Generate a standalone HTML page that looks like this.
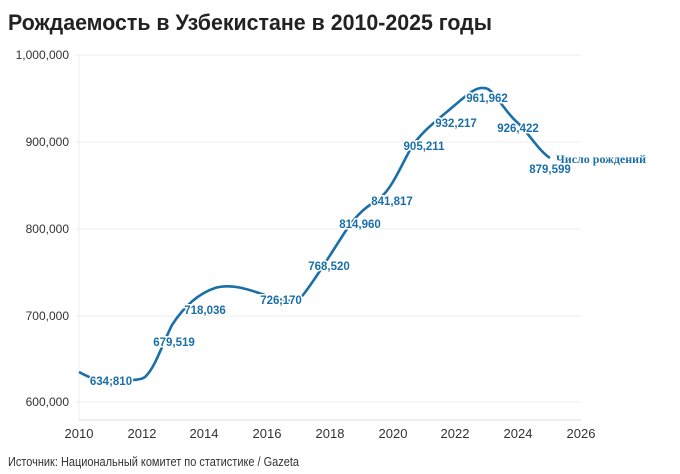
<!DOCTYPE html>
<html><head><meta charset="utf-8"><style>
body{margin:0;background:#fff;width:680px;height:474px;overflow:hidden;font-family:"Liberation Sans",sans-serif}
svg{position:absolute;left:0;top:0}
.t{font-family:"Liberation Sans",sans-serif;font-size:12px;fill:#333}
.l{font-family:"Liberation Sans",sans-serif;font-size:11.5px;font-weight:bold;fill:#1a6fa8;paint-order:stroke;stroke:#fff;stroke-width:3px}
</style></head><body>
<svg width="680" height="474">
<text x="8" y="30" style="font-family:'Liberation Sans Narrow','Liberation Sans',sans-serif;font-weight:bold;font-size:22px;fill:#222" textLength="484" lengthAdjust="spacingAndGlyphs">Рождаемость в Узбекистане в 2010-2025 годы</text>
<g stroke="#eee" stroke-width="1">
<line x1="75" x2="581" y1="55" y2="55"/><line x1="75" x2="581" y1="142" y2="142"/><line x1="75" x2="581" y1="229" y2="229"/><line x1="75" x2="581" y1="316" y2="316"/><line x1="75" x2="581" y1="402" y2="402"/>
<line x1="79" x2="79" y1="55" y2="420"/>
</g>
<line x1="79" x2="581" y1="420" y2="420" stroke="#ddd"/>
<g class="t" text-anchor="end">
<text x="69" y="59">1,000,000</text><text x="69" y="146">900,000</text><text x="69" y="233">800,000</text><text x="69" y="320">700,000</text><text x="69" y="406">600,000</text>
</g>
<g class="t" text-anchor="middle" style="font-size:13px">
<text x="79" y="438">2010</text><text x="142" y="438">2012</text><text x="204" y="438">2014</text><text x="267" y="438">2016</text><text x="330" y="438">2018</text><text x="393" y="438">2020</text><text x="455" y="438">2022</text><text x="518" y="438">2024</text><text x="581" y="438">2026</text>
</g>
<path d="M79,372 C90,378 100,382 112,381 C125,380 140,381 145,377 C155,368 162,345 172,325 C185,305 200,293 215,288 C232,283 250,290 265,295 C282,300 295,305 303,295 C315,280 330,255 345,232 C358,212 368,206 380,198 C392,188 400,168 410,150 C420,132 440,118 455,105 C470,92 478,85 488,89 C498,96 505,112 518,123 C530,135 540,152 550,158" fill="none" stroke="#1a6fa8" stroke-width="2.6"/>
<g class="l" text-anchor="middle">
<text x="111" y="385">634;810</text><text x="174" y="346">679,519</text><text x="205" y="314">718,036</text><text x="281" y="304">726,170</text><text x="329" y="270">768,520</text><text x="360" y="228">814,960</text><text x="392" y="205">841,817</text><text x="424" y="150">905,211</text><text x="456" y="127">932,217</text><text x="487" y="102">961,962</text><text x="518" y="132">926,422</text><text x="550" y="173">879,599</text>
</g>
<text x="556" y="163" style="font-family:'Liberation Serif',serif;font-size:12px;font-weight:bold;fill:#1a6fa8">Число рождений</text>
<text x="8" y="466" style="font-family:'Liberation Sans Narrow','Liberation Sans',sans-serif;font-size:12.5px;fill:#333" textLength="291" lengthAdjust="spacingAndGlyphs">Источник: Национальный комитет по статистике / Gazeta</text>
</svg>
</body></html>
